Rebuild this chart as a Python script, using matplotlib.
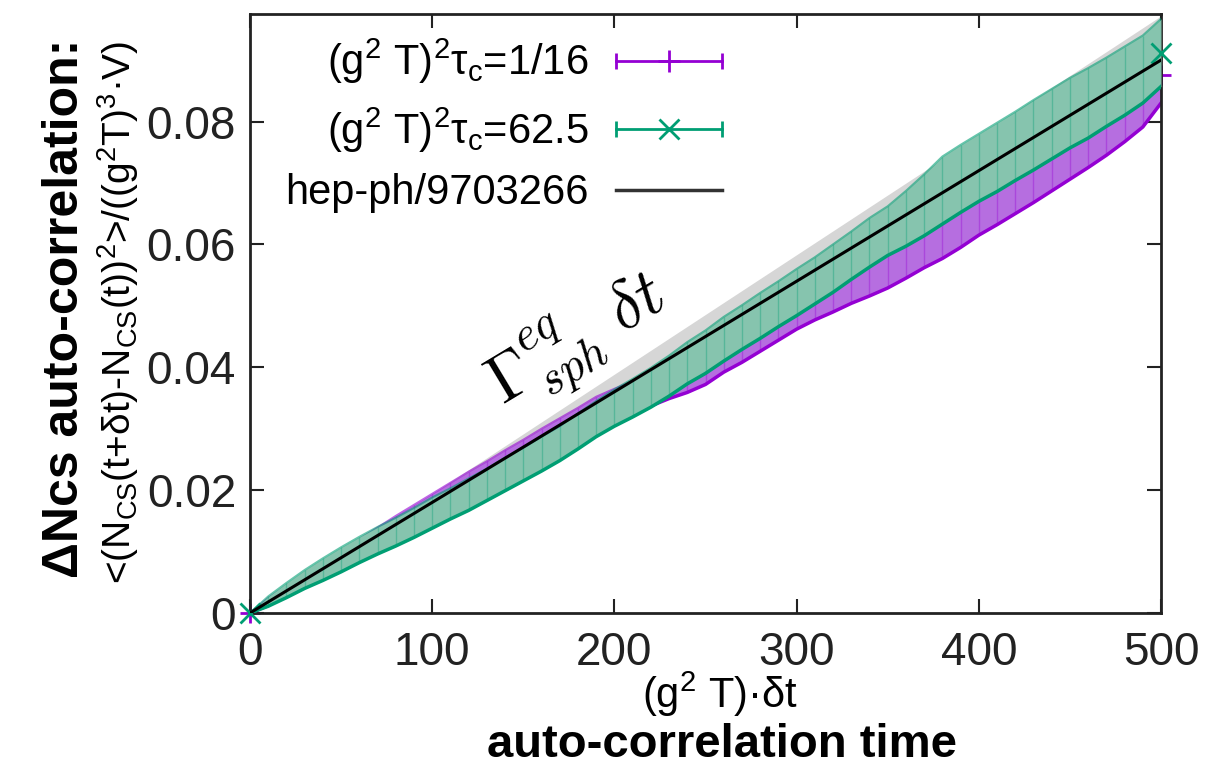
import numpy as np
import matplotlib.pyplot as plt
from matplotlib.lines import Line2D
from matplotlib.legend_handler import HandlerLine2D, HandlerTuple
from matplotlib.ticker import FuncFormatter

plt.rcParams['font.family'] = ['Liberation Sans', 'DejaVu Sans']
plt.rcParams['mathtext.fontset'] = 'custom'
plt.rcParams['mathtext.rm'] = 'Liberation Sans'
plt.rcParams['mathtext.it'] = 'Liberation Sans:italic'
plt.rcParams['mathtext.bf'] = 'Liberation Sans:bold'

# Data
dt = np.arange(0, 501, 10)

# (g^2 T)^2 tau_c = 62.5
y_green = [0.0000, 0.0019, 0.0037, 0.0055, 0.0071, 0.0087, 0.0103, 0.0118, 0.0132, 0.0147,
           0.0163, 0.0178, 0.0193, 0.0209, 0.0226, 0.0242, 0.0259, 0.0276, 0.0296, 0.0316,
           0.0334, 0.0350, 0.0367, 0.0386, 0.0407, 0.0425, 0.0446, 0.0465, 0.0484, 0.0503,
           0.0522, 0.0541, 0.0561, 0.0582, 0.0603, 0.0622, 0.0642, 0.0664, 0.0688, 0.0707,
           0.0725, 0.0742, 0.0760, 0.0778, 0.0796, 0.0814, 0.0830, 0.0848, 0.0866, 0.0885,
           0.0912]
err_green = [0.0000, 0.0008, 0.0012, 0.0015, 0.0018, 0.0020, 0.0021, 0.0022, 0.0023, 0.0024,
             0.0025, 0.0025, 0.0026, 0.0026, 0.0027, 0.0027, 0.0028, 0.0028, 0.0029, 0.0029,
             0.0030, 0.0031, 0.0032, 0.0033, 0.0034, 0.0035, 0.0036, 0.0036, 0.0037, 0.0037,
             0.0038, 0.0038, 0.0039, 0.0039, 0.0040, 0.0040, 0.0045, 0.0050, 0.0055, 0.0055,
             0.0055, 0.0056, 0.0056, 0.0057, 0.0057, 0.0057, 0.0057, 0.0056, 0.0056, 0.0055,
             0.0055]

# (g^2 T)^2 tau_c = 1/16
y_purple = [0.0000, 0.0018, 0.0036, 0.0054, 0.0072, 0.0089, 0.0107, 0.0125, 0.0143, 0.0160,
            0.0177, 0.0195, 0.0212, 0.0229, 0.0246, 0.0263, 0.0280, 0.0297, 0.0313, 0.0330,
            0.0342, 0.0352, 0.0363, 0.0375, 0.0386, 0.0400, 0.0420, 0.0437, 0.0455, 0.0474,
            0.0492, 0.0508, 0.0522, 0.0537, 0.0550, 0.0564, 0.0580, 0.0597, 0.0612, 0.0630,
            0.0650, 0.0668, 0.0686, 0.0705, 0.0724, 0.0744, 0.0764, 0.0785, 0.0808, 0.0834,
            0.0875]
err_purple = [0.0000, 0.0006, 0.0008, 0.0010, 0.0011, 0.0012, 0.0013, 0.0014, 0.0015, 0.0016,
              0.0017, 0.0017, 0.0018, 0.0018, 0.0019, 0.0019, 0.0020, 0.0020, 0.0021, 0.0022,
              0.0023, 0.0025, 0.0026, 0.0026, 0.0027, 0.0028, 0.0028, 0.0029, 0.0029, 0.0030,
              0.0030, 0.0031, 0.0032, 0.0033, 0.0034, 0.0035, 0.0035, 0.0035, 0.0035, 0.0035,
              0.0035, 0.0036, 0.0036, 0.0037, 0.0037, 0.0038, 0.0039, 0.0040, 0.0041, 0.0043,
              0.0045]

# hep-ph/9703266 rate and its uncertainty band
ref_x = [0, 500]
ref_y = [0.0, 0.0900]
ref_lo = [0.0, 0.0828]
ref_hi = [0.0, 0.0972]

purple = '#9400d3'
green = '#009e73'

y_green = np.array(y_green)
err_green = np.array(err_green)
y_purple = np.array(y_purple)
err_purple = np.array(err_purple)

fig = plt.figure(figsize=(12.06, 7.77), dpi=100)
ax = fig.add_axes([250 / 1206, 1 - 613 / 777, 911 / 1206, 599 / 777])

ax.fill_between(ref_x, ref_lo, ref_hi, color='#d6d6d6', lw=0, zorder=1)


def band(y, e, col, fill, mk, z):
    # dense gnuplot-style error bars: filled band, darker edges, end markers
    ax.fill_between(dt, y - e, y + e, color=fill, lw=0, zorder=z)
    ax.errorbar(dt, y, yerr=e, fmt='none', ecolor=col, elinewidth=1.0, alpha=0.35,
                capsize=0, zorder=z)
    ax.plot(dt, y - e, color=col, lw=2.5, zorder=z)
    ax.plot(dt, y + e, color=col, lw=1.5, alpha=0.6, zorder=z)
    ax.plot(dt, y, ls='none', marker=mk, color=col, ms=14, mew=2, markevery=[0, -1],
            clip_on=False, zorder=z + 0.5)


band(y_purple, err_purple, purple, '#b66ee0', '+', 2)
band(y_green, err_green, green, '#86c4ae', 'x', 4)

ax.plot(ref_x, ref_y, color='black', lw=2.2, zorder=6)

ax.set_xlim(0, 500)
ax.set_ylim(0, 0.0975)
ax.set_xticks([0, 100, 200, 300, 400, 500])
ax.set_yticks([0, 0.02, 0.04, 0.06, 0.08])
ax.yaxis.set_major_formatter(FuncFormatter(lambda v, p: '%g' % v))
ax.tick_params(direction='in', top=True, right=True, length=10, width=1.5,
               labelsize=33, pad=10, colors='#222222')
ax.tick_params(axis='x', pad=13)
for s in ax.spines.values():
    s.set_linewidth(2)
    s.set_color('#222222')

ax.text(0.36, 0.452, r'$\Gamma^{eq}_{sph}\ \delta t$', transform=ax.transAxes,
        fontsize=48, rotation=31, ha='center', va='center', math_fontfamily='cm')

# gnuplot-like legend
caps_p = Line2D([], [], color=purple, lw=2, marker='|', ms=12, mew=2)
mid_p = Line2D([], [], color=purple, ls='none', marker='+', ms=16, mew=2)
caps_g = Line2D([], [], color=green, lw=2, marker='|', ms=12, mew=2)
mid_g = Line2D([], [], color=green, ls='none', marker='x', ms=14, mew=2)
ref_h = Line2D([], [], color='#333333', lw=2.5)
hmap = {caps_p: HandlerLine2D(numpoints=2, marker_pad=0),
        caps_g: HandlerLine2D(numpoints=2, marker_pad=0),
        mid_p: HandlerLine2D(numpoints=1), mid_g: HandlerLine2D(numpoints=1),
        tuple: HandlerTuple(ndivide=1, pad=0)}
ax.legend([(caps_p, mid_p), (caps_g, mid_g), ref_h],
          [r'(g$^2$ T)$^2$τ$_{\rm c}$=1/16', r'(g$^2$ T)$^2$τ$_{\rm c}$=62.5', 'hep-ph/9703266'],
          handler_map=hmap, markerfirst=False, frameon=False, fontsize=30,
          handlelength=2.55, handletextpad=0.65, labelspacing=0.45, borderpad=0,
          borderaxespad=0, loc='upper right', bbox_to_anchor=(722 / 1206, 1 - 37 / 777),
          bbox_transform=fig.transFigure)

fig.text(720 / 1206, 1 - 694 / 777, r'(g$^2$ T)·δt', fontsize=30, ha='center', va='center')
fig.text(722 / 1206, 1 - 745 / 777, 'auto-correlation time', fontsize=34,
         fontweight='bold', ha='center', va='center')
fig.text(118 / 1206, 1 - 312 / 777,
         r'<(N$_{\rm CS}$(t+δt)-N$_{\rm CS}$(t))$^2$>/((g$^2$T)$^3$·V)',
         fontsize=28, rotation=90, ha='center', va='center')
fig.text(65 / 1206, 1 - 308 / 777, 'ΔNcs auto-correlation:', fontsize=36,
         fontweight='bold', rotation=90, ha='center', va='center')

fig.savefig('out.png', dpi=100)
